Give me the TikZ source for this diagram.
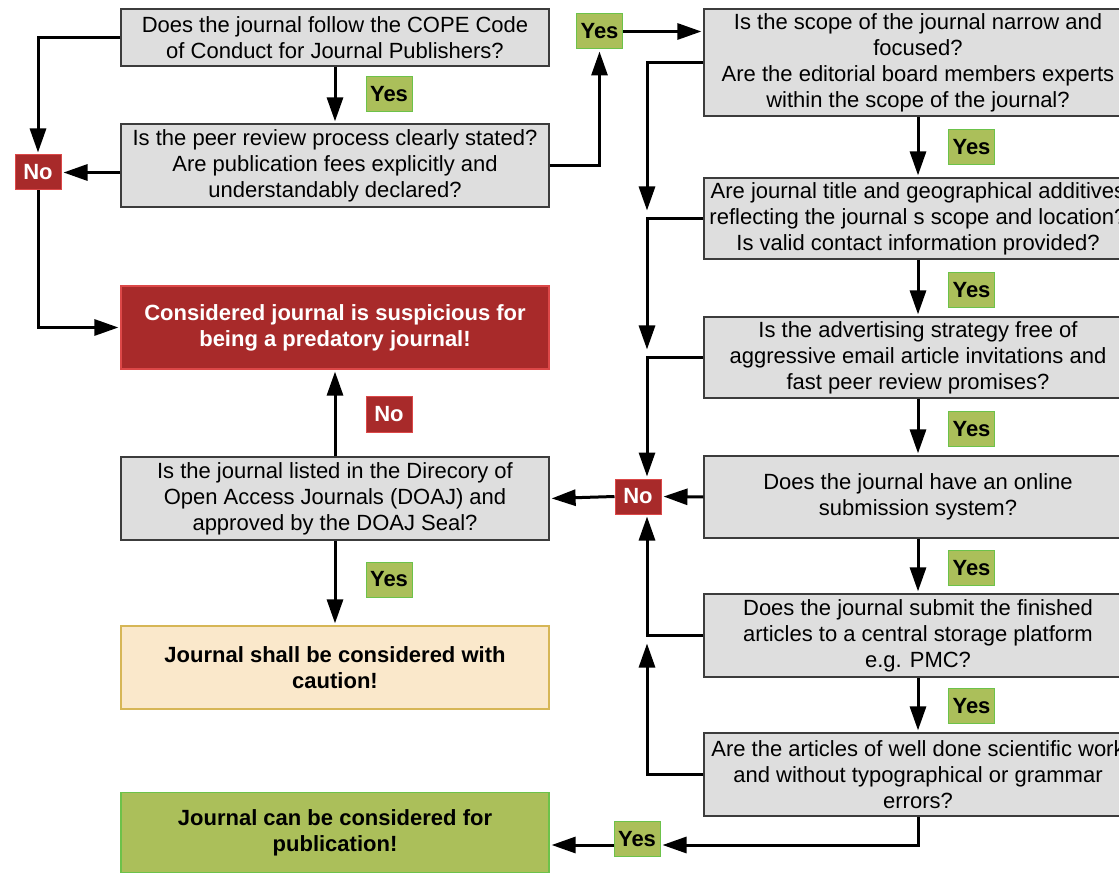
\documentclass[tikz,border=0pt]{standalone}
\usepackage{fontspec}
\setmainfont{Liberation Sans}
\usepackage{xcolor}
\usetikzlibrary{arrows.meta, calc}

\definecolor{boxgrey}{HTML}{DEDEDE}
\definecolor{boxedge}{HTML}{3C3C3C}
\definecolor{predred}{HTML}{A82A2A}
\definecolor{prededge}{HTML}{DC4848}
\definecolor{yesfill}{HTML}{ABBF5A}
\definecolor{yesedge}{HTML}{6CC24A}
\definecolor{cautionfill}{HTML}{FAE8CB}
\definecolor{cautionedge}{HTML}{D6B656}

\tikzset{
  question/.style={draw=boxedge, fill=boxgrey, line width=1.2pt, minimum width=428pt, minimum height=83pt, inner sep=0pt, align=center, font=\fontsize{22}{26}\selectfont},
  verdict/.style={question, font=\bfseries\fontsize{22}{26}\selectfont},
  yeslabel/.style={draw=yesedge, fill=yesfill, line width=1pt, minimum width=46pt, minimum height=35pt, inner sep=0pt, font=\bfseries\fontsize{22}{26}\selectfont},
  nolabel/.style={yeslabel, draw=prededge, fill=predred, text=white},
  flow/.style={-{Triangle[length=24pt,width=16pt]}, line width=3pt, shorten >=2pt}
}

\begin{document}
\begin{tikzpicture}[x=1pt, y=-1pt]
\useasboundingbox (0,0) rectangle (1119,874);
\clip (0,0) rectangle (1119,874);

\coordinate (trunk) at (647,0);
\coordinate (exitrow) at (0,845);

% left column
\node[question, minimum height=57pt] (cope) at (335,37.5) {Does the journal follow the COPE Code\\of Conduct for Journal Publishers?};
\node[question] (peer) at (335,165.5) {Is the peer review process clearly stated?\\Are publication fees explicitly and\\understandably declared?};
\node[verdict, fill=predred, draw=prededge, text=white] (suspect) at (335,327.5) {Considered journal is suspicious for\\being a predatory journal!};
\node[question] (doaj) at (335,498.5) {Is the journal listed in the Direcory of\\Open Access Journals (DOAJ) and\\approved by the DOAJ Seal?};
\node[verdict, fill=cautionfill, draw=cautionedge] (caution) at (335,667.5) {Journal shall be considered with\\caution!};
\node[verdict, fill=yesfill, draw=yesedge, minimum height=80pt] (publish) at (335,832.5) {Journal can be considered for\\publication!};

% right column
\node[question, minimum height=107pt] (scope) at (918,62.5) {Is the scope of the journal narrow and\\focused?\\Are the editorial board members experts\\within the scope of the journal?};
\node[question, minimum height=81pt] (title) at (918,218.5) {Are journal title and geographical additives\\reflecting the journal s scope and location?\\Is valid contact information provided?};
\node[question, minimum height=81pt] (advert) at (918,357.5) {Is the advertising strategy free of\\aggressive email article invitations and\\fast peer review promises?};
\node[question, minimum height=82pt] (online) at (918,497) {Does the journal have an online\\submission system?};
\node[question] (archive) at (918,635.5) {Does the journal submit the finished\\articles to a central storage platform\\e.g. PMC?};
\node[question] (quality) at (918,774.5) {Are the articles of well done scientific work\\and without typographical or grammar\\errors?};

% answers
\node[yeslabel] (yesCope) at (389,94.5) {Yes};
\node[nolabel] (noLeft) at (38,172.5) {No};
\node[yeslabel] (yesPeer) at (599.5,31.5) {Yes};
\node[yeslabel] (yesScope) at (971.5,147.5) {Yes};
\node[yeslabel] (yesTitle) at (971.5,290) {Yes};
\node[yeslabel] (yesAdvert) at (971.5,429) {Yes};
\node[yeslabel] (yesOnline) at (971.5,568) {Yes};
\node[yeslabel] (yesArchive) at (971.5,706) {Yes};
\node[nolabel] (noMid) at (638,496.5) {No};
\node[nolabel] (noDoaj) at (389,414.5) {No};
\node[yeslabel] (yesDoaj) at (389,579.5) {Yes};
\node[yeslabel] (yesQuality) at (637,839) {Yes};

% connectors
\draw[flow] (cope.west) -| (noLeft.north);
\draw[flow] (cope.south) -- (peer.north);
\draw[flow] (peer.west |- noLeft.east) -- (noLeft.east);
\draw[flow] (noLeft.south) |- (suspect.west);
\draw[flow] (peer.east) -| (yesPeer.south);
\draw[flow] (yesPeer.east) -- (yesPeer.east -| scope.west);

\draw[flow] (scope.south) -- (title.north);
\draw[flow] (title.south) -- (advert.north);
\draw[flow] (advert.south) -- (online.north);
\draw[flow] (online.south) -- (archive.north);
\draw[flow] (archive.south) -- (quality.north);

\draw[flow] (scope.west) -| ([yshift=6pt]trunk |- title.west);
\draw[flow] (title.west) -| ([yshift=6pt]trunk |- advert.west);
\draw[flow] (advert.west) -| (trunk |- noMid.north);
\draw[flow] (online.west) -- (noMid.east);
\draw[flow] (noMid.west) -- (doaj.east);
\draw[flow] (archive.west) -| (trunk |- noMid.south);
\draw[flow] (quality.west) -| ([yshift=-6pt]trunk |- archive.west);

\draw[flow] (quality.south) |- (yesQuality.east |- exitrow);
\draw[flow] (yesQuality.west |- exitrow) -- (publish.east |- exitrow);
\draw[flow] (doaj.north) -- (suspect.south);
\draw[flow] (doaj.south) -- (caution.north);
\end{tikzpicture}
\end{document}
